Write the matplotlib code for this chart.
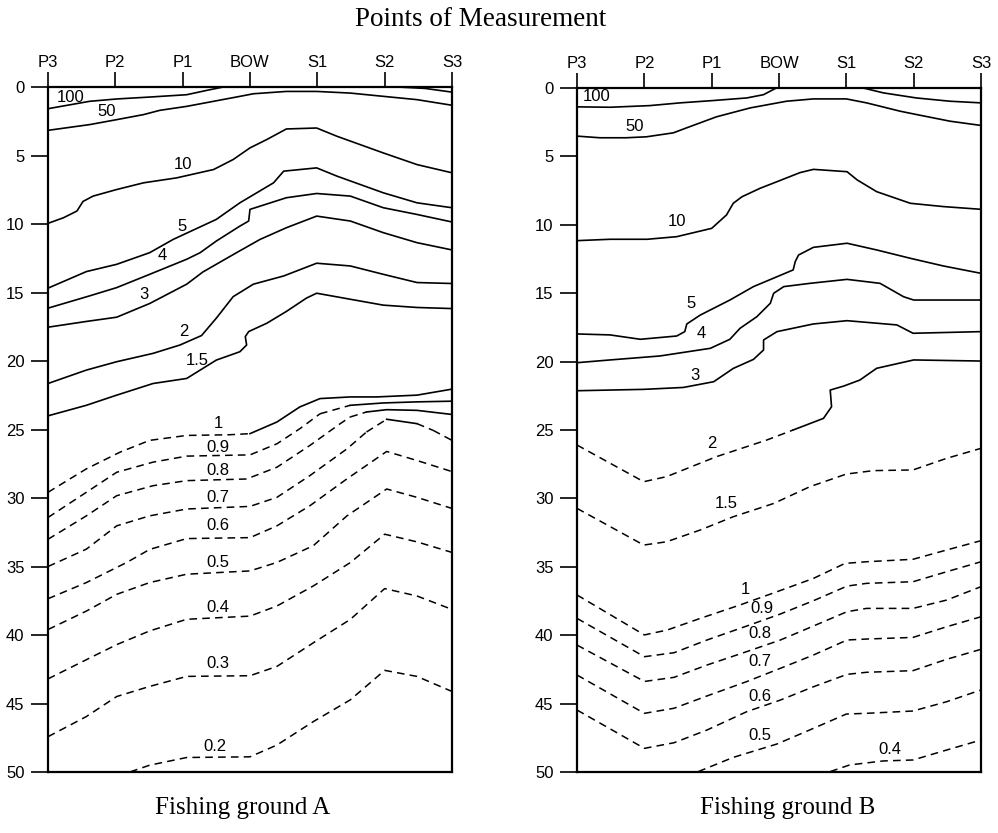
import matplotlib
matplotlib.use('Agg')
import matplotlib.pyplot as plt
import numpy as np

points = ['P3', 'P2', 'P1', 'BOW', 'S1', 'S2', 'S3']
depth_ticks = list(range(0, 51, 5))

# ---- fishing ground A : (x position along P3..S3, depth) ----
a100_x = [0, 0.62, 1.02, 1.51, 2.06, 2.36, 2.60]
a100_d = [1.58, 1.04, 0.87, 0.73, 0.56, 0.24, 0.0]
a100r_x = [5.2, 5.6, 6.0]
a100r_d = [0.0, 0.1, 0.37]
a50_x = [0, 0.62, 1.02, 1.42, 1.66, 2.06, 2.46, 2.85, 3.05, 3.54, 3.99, 4.49, 4.88, 5.48, 6.0]
a50_d = [3.16, 2.74, 2.38, 2.01, 1.70, 1.41, 1.04, 0.68, 0.49, 0.32, 0.32, 0.44, 0.63, 0.92, 1.33]
a10_x = [0, 0.23, 0.43, 0.52, 0.67, 1.02, 1.42, 1.91, 2.46, 2.75, 3.0, 3.25, 3.54, 3.99, 4.29, 4.98, 5.48, 6.0]
a10_d = [9.95, 9.54, 9.05, 8.35, 7.96, 7.48, 6.99, 6.63, 6.02, 5.29, 4.44, 3.83, 3.06, 2.99, 3.59, 4.81, 5.66, 6.26]
a5_x = [0, 0.57, 1.02, 1.51, 1.86, 2.5, 2.85, 3.1, 3.35, 3.5, 3.99, 4.29, 4.98, 5.48, 6.0]
a5_d = [14.68, 13.47, 12.94, 12.09, 11.12, 9.66, 8.45, 7.72, 6.99, 6.14, 5.9, 6.5, 7.72, 8.45, 8.81]
a4_x = [0, 0.62, 1.02, 1.51, 2.06, 2.26, 2.5, 2.85, 2.98, 3.0, 3.54, 3.99, 4.49, 4.98, 5.48, 6.0]
a4_d = [16.14, 15.24, 14.64, 13.67, 12.57, 12.09, 11.24, 10.15, 9.78, 8.93, 8.08, 7.77, 7.96, 8.81, 9.30, 9.85]
a3_x = [0, 0.57, 1.02, 1.51, 2.06, 2.3, 2.8, 3.15, 3.54, 3.99, 4.49, 4.98, 5.48, 6.0]
a3_d = [17.53, 17.11, 16.8, 15.8, 14.39, 13.5, 12.09, 11.12, 10.27, 9.42, 9.78, 10.63, 11.36, 11.89]
a2_x = [0, 0.57, 1.02, 1.56, 1.96, 2.28, 2.5, 2.75, 3.05, 3.5, 3.99, 4.49, 4.98, 5.48, 6.0]
a2_d = [21.64, 20.66, 20.05, 19.44, 18.83, 18.14, 16.87, 15.3, 14.39, 13.79, 12.86, 13.06, 13.67, 14.27, 14.34]
a15_x = [0, 0.57, 1.02, 1.56, 2.06, 2.26, 2.5, 2.85, 2.95, 2.93, 2.98, 3.25, 3.54, 3.84, 3.99, 4.49, 4.98, 5.48, 6.0]
a15_d = [24.0, 23.23, 22.49, 21.64, 21.27, 20.66, 19.93, 19.32, 18.83, 18.22, 17.85, 17.24, 16.38, 15.4, 15.05, 15.49, 15.92, 16.09, 16.17]
a1_x = [0, 0.57, 1.07, 1.51, 2.06, 2.7, 3.0, 3.40, 3.74, 4.04, 4.49, 4.88, 5.48, 6.0]
a1_d = [29.58, 27.87, 26.65, 25.79, 25.43, 25.38, 25.3, 24.45, 23.35, 22.74, 22.62, 22.62, 22.49, 22.05]
a09_x = [0, 0.57, 1.02, 1.56, 2.06, 3.0, 3.40, 3.74, 4.04, 4.49, 4.98, 5.48, 6.0]
a09_d = [31.42, 29.58, 28.12, 27.38, 26.94, 26.85, 26.04, 24.94, 23.85, 23.23, 23.06, 22.98, 22.93]
a08_x = [0, 0.57, 1.02, 1.56, 2.06, 2.95, 3.40, 3.89, 4.34, 4.49, 4.73, 5.03, 5.48, 6.0]
a08_d = [33.01, 31.3, 29.83, 29.1, 28.73, 28.61, 27.75, 26.16, 24.57, 24.08, 23.72, 23.55, 23.6, 23.9]
a07_x = [0, 0.57, 1.02, 1.51, 2.06, 3.0, 3.40, 3.89, 4.44, 4.73, 5.03, 5.48, 5.72, 6.0]
a07_d = [35.0, 33.73, 32.03, 31.3, 30.8, 30.61, 29.95, 28.36, 26.41, 25.18, 24.25, 24.57, 25.06, 25.79]
a06_x = [0, 0.57, 1.17, 1.51, 2.06, 3.0, 3.4, 3.89, 4.44, 5.03, 5.48, 6.0]
a06_d = [37.35, 36.17, 34.7, 33.75, 32.96, 32.89, 32.03, 30.56, 28.6, 26.6, 27.26, 28.07]
a05_x = [0, 0.57, 1.02, 1.51, 2.06, 3.0, 3.4, 3.94, 4.44, 5.03, 5.48, 6.0]
a05_d = [39.6, 38.25, 37.03, 36.17, 35.56, 35.32, 34.7, 33.48, 31.3, 29.34, 29.95, 30.76]
a04_x = [0, 0.57, 1.02, 1.51, 2.06, 3.0, 3.4, 3.94, 4.49, 5.0, 5.48, 6.0]
a04_d = [43.2, 41.8, 40.7, 39.7, 38.85, 38.62, 37.88, 36.42, 34.71, 32.64, 33.2, 33.97]
a03_x = [0, 0.57, 1.02, 1.51, 2.06, 3.0, 3.40, 3.94, 4.49, 5.0, 5.48, 6.0]
a03_d = [47.42, 45.95, 44.49, 43.75, 43.02, 42.97, 42.29, 40.57, 38.86, 36.61, 37.15, 38.13]
a02_x = [1.22, 1.51, 2.06, 3.0, 3.40, 3.94, 4.49, 5.0, 5.48, 6.0]
a02_d = [49.99, 49.5, 48.94, 48.89, 48.03, 46.32, 44.73, 42.58, 43.02, 44.12]

# ---- fishing ground B ----
b100_x = [0, 0.49, 1.08, 1.53, 2.02, 2.52, 2.77, 2.96]
b100_d = [1.38, 1.41, 1.29, 1.09, 0.92, 0.73, 0.49, 0.0]
b100r_x = [4.25, 4.55, 5.04, 5.54, 6.0]
b100r_d = [0.0, 0.36, 0.73, 0.97, 1.09]
b50_x = [0, 0.34, 0.73, 1.03, 1.43, 1.63, 2.07, 2.57, 3.11, 3.51, 4.0, 4.3, 4.8, 5.04, 5.54, 6.0]
b50_d = [3.52, 3.64, 3.64, 3.57, 3.28, 2.91, 2.11, 1.46, 0.97, 0.8, 0.8, 1.09, 1.7, 1.94, 2.43, 2.74]
b10_x = [0, 0.49, 1.04, 1.48, 2.0, 2.22, 2.32, 2.45, 2.72, 2.97, 3.31, 3.51, 4.01, 4.16, 4.45, 4.95, 5.44, 6.0]
b10_d = [11.16, 11.06, 11.06, 10.87, 10.26, 9.28, 8.43, 7.95, 7.33, 6.85, 6.19, 5.95, 6.12, 6.72, 7.58, 8.43, 8.67, 8.87]
b5_x = [0, 0.49, 0.94, 1.48, 1.60, 1.63, 1.83, 2.27, 2.62, 3.21, 3.24, 3.29, 3.51, 4.01, 4.45, 4.95, 5.44, 6.0]
b5_d = [17.98, 18.05, 18.37, 18.13, 17.81, 17.25, 16.6, 15.5, 14.52, 13.3, 12.7, 12.21, 11.65, 11.35, 11.84, 12.45, 13.01, 13.55]
b4_x = [0, 0.49, 1.23, 1.98, 2.27, 2.42, 2.67, 2.87, 2.92, 3.07, 3.46, 4.01, 4.5, 4.85, 5.0, 6.0]
b4_d = [20.08, 19.88, 19.59, 19.03, 18.37, 17.57, 16.72, 15.74, 15.01, 14.52, 14.28, 13.99, 14.28, 15.26, 15.5, 15.5]
b3_x = [0, 0.99, 1.58, 2.03, 2.32, 2.62, 2.77, 2.77, 2.97, 3.51, 4.01, 4.75, 4.99, 6.0]
b3_d = [22.13, 22.03, 21.89, 21.47, 20.5, 19.84, 19.15, 18.42, 17.81, 17.25, 17.01, 17.32, 17.93, 17.81]
b2_x = [0, 0.99, 1.33, 2.07, 2.82, 3.21, 3.66, 3.78, 3.76, 3.96, 4.2, 4.45, 5.0, 6.0]
b2_d = [26.1, 28.78, 28.41, 26.95, 25.73, 25.0, 24.15, 23.3, 22.08, 21.79, 21.35, 20.49, 19.88, 19.96]
b15_x = [0, 0.99, 1.33, 1.83, 2.32, 2.92, 3.46, 4.0, 4.4, 4.99, 5.49, 6.0]
b15_d = [30.73, 33.41, 33.17, 32.31, 31.34, 30.37, 29.14, 28.22, 27.97, 27.92, 27.07, 26.34]
b1_x = [0, 1.0, 1.34, 1.83, 2.42, 2.97, 3.51, 3.98, 4.3, 4.99, 5.49, 6.0]
b1_d = [37.06, 39.98, 39.62, 38.77, 37.79, 36.82, 35.85, 34.75, 34.63, 34.45, 33.77, 33.09]
b09_x = [0, 1.0, 1.44, 1.93, 2.52, 3.02, 3.51, 4.01, 4.3, 4.99, 5.49, 6.0]
b09_d = [38.77, 41.57, 41.28, 40.35, 39.33, 38.45, 37.48, 36.41, 36.21, 36.09, 35.36, 34.63]
b08_x = [0, 1.0, 1.44, 1.93, 2.52, 3.02, 3.51, 4.01, 4.3, 4.99, 5.49, 6.0]
b08_d = [40.72, 43.38, 43.08, 42.18, 41.2, 40.35, 39.33, 38.28, 38.04, 38.04, 37.43, 36.45]
b07_x = [0, 1.0, 1.44, 1.93, 2.52, 3.02, 3.51, 4.01, 4.3, 4.99, 5.49, 6.0]
b07_d = [42.91, 45.71, 45.34, 44.44, 43.39, 42.42, 41.45, 40.35, 40.28, 40.16, 39.38, 38.65]
b06_x = [0, 1.0, 1.44, 1.93, 2.52, 3.02, 3.51, 4.01, 4.3, 4.99, 5.49, 6.0]
b06_d = [45.47, 48.27, 47.86, 46.93, 45.59, 44.74, 43.77, 42.86, 42.71, 42.59, 41.76, 41.03]
b05_x = [1.8, 2.32, 2.97, 3.51, 4.0, 4.3, 4.99, 5.49, 6.0]
b05_d = [49.97, 48.93, 47.95, 46.81, 45.76, 45.71, 45.54, 44.86, 44.0]
b04_x = [3.76, 4.05, 4.55, 4.99, 5.49, 6.0]
b04_d = [49.97, 49.48, 49.19, 49.12, 48.39, 47.66]

# line values, label positions (x, depth) and solid part (x from, x to); None = all dashed
a_lines = [
    ('100', a100_x, a100_d, (0.33, 0.73), (0, 6)),
    ('', a100r_x, a100r_d, None, (0, 6)),
    ('50', a50_x, a50_d, (0.87, 1.77), (0, 6)),
    ('10', a10_x, a10_d, (2.01, 5.66), (0, 6)),
    ('5', a5_x, a5_d, (1.99, 10.15), (0, 6)),
    ('4', a4_x, a4_d, (1.69, 12.33), (0, 6)),
    ('3', a3_x, a3_d, (1.42, 15.12), (0, 6)),
    ('2', a2_x, a2_d, (2.01, 17.85), (0, 6)),
    ('1.5', a15_x, a15_d, (2.21, 19.93), (0, 6)),
    ('1', a1_x, a1_d, (2.53, 24.57), (3.0, 6)),
    ('0.9', a09_x, a09_d, (2.53, 26.28), (4.1, 6)),
    ('0.8', a08_x, a08_d, (2.53, 28.0), (4.6, 6)),
    ('0.7', a07_x, a07_d, (2.53, 29.95), (4.8, 5.6)),
    ('0.6', a06_x, a06_d, (2.53, 32.03), None),
    ('0.5', a05_x, a05_d, (2.53, 34.7), None),
    ('0.4', a04_x, a04_d, (2.53, 38.0), None),
    ('0.3', a03_x, a03_d, (2.53, 42.09), None),
    ('0.2', a02_x, a02_d, (2.48, 48.15), None),
]
b_lines = [
    ('100', b100_x, b100_d, (0.29, 0.66), (0, 6)),
    ('', b100r_x, b100r_d, None, (0, 6)),
    ('50', b50_x, b50_d, (0.86, 2.84), (0, 6)),
    ('10', b10_x, b10_d, (1.48, 9.77), (0, 6)),
    ('5', b5_x, b5_d, (1.70, 15.74), (0, 6)),
    ('4', b4_x, b4_d, (1.85, 17.93), (0, 6)),
    ('3', b3_x, b3_d, (1.75, 21.05), (0, 6)),
    ('2', b2_x, b2_d, (2.0, 26.02), (3.21, 6)),
    ('1.5', b15_x, b15_d, (2.22, 30.36), None),
    ('1', b1_x, b1_d, (2.5, 36.65), None),
    ('0.9', b09_x, b09_d, (2.74, 38.04), None),
    ('0.8', b08_x, b08_d, (2.72, 39.86), None),
    ('0.7', b07_x, b07_d, (2.72, 41.93), None),
    ('0.6', b06_x, b06_d, (2.72, 44.5), None),
    ('0.5', b05_x, b05_d, (2.72, 47.3), None),
    ('0.4', b04_x, b04_d, (4.65, 48.39), None),
]

sans = ['Liberation Sans', 'DejaVu Sans']
serif = ['Liberation Serif', 'DejaVu Serif']
dash = (0, (5.0, 3.4))


def draw_line(ax, xs, ds, solid):
    xs = np.array(xs, dtype=float)
    ds = np.array(ds, dtype=float)
    if solid is None:
        ax.plot(xs, ds, color='black', lw=1.1, linestyle=dash)
        return
    s0, s1 = solid
    # solid part
    inside = (xs >= s0) & (xs <= s1)
    ax.plot(xs[inside], ds[inside], color='black', lw=1.2, solid_joinstyle='round')
    left = xs <= s0
    if left.sum() >= 2:
        ax.plot(xs[left], ds[left], color='black', lw=1.1, linestyle=dash)
    right = xs >= s1
    if right.sum() >= 2:
        ax.plot(xs[right], ds[right], color='black', lw=1.1, linestyle=dash)
    # join pieces if boundary not a data point
    for b in (s0, s1):
        if 0 < b < 6 and b not in xs:
            i = np.searchsorted(xs, b)
            if 0 < i < len(xs):
                ax.plot(xs[i - 1:i + 1], ds[i - 1:i + 1], color='black', lw=1.1, linestyle=dash)


def setup(ax, lines):
    for name, xs, ds, lab, solid in lines:
        draw_line(ax, xs, ds, solid)
        if lab is not None:
            ax.text(lab[0], lab[1], name, ha='center', va='center', fontsize=12,
                    family=sans, color='black')
    ax.set_xlim(0, 6)
    ax.set_ylim(50, 0)
    ax.xaxis.tick_top()
    ax.set_xticks(range(len(points)))
    ax.set_xticklabels(points, family=sans, fontsize=12)
    ax.set_yticks(depth_ticks)
    ax.set_yticklabels([str(t) for t in depth_ticks], family=sans, fontsize=12)
    ax.tick_params(axis='x', direction='out', length=11, width=1.2, pad=1)
    ax.tick_params(axis='y', direction='out', length=12, width=1.2, pad=5)
    for s in ax.spines.values():
        s.set_linewidth(1.6)


fig = plt.figure(figsize=(9.98, 8.33), dpi=100)
ax_a = fig.add_axes([0.0481, 0.0732, 0.4048, 0.8223])
ax_b = fig.add_axes([0.5782, 0.0732, 0.4048, 0.8212])
setup(ax_a, a_lines)
setup(ax_b, b_lines)

fig.text(0.482, 0.977, 'Points of Measurement', ha='center', va='center',
         family=serif, fontsize=19.5)
fig.text(0.243, 0.030, 'Fishing ground A', ha='center', va='center',
         family=serif, fontsize=18)
fig.text(0.789, 0.030, 'Fishing ground B', ha='center', va='center',
         family=serif, fontsize=18)

fig.savefig('out.png', dpi=100)
plt.close(fig)
